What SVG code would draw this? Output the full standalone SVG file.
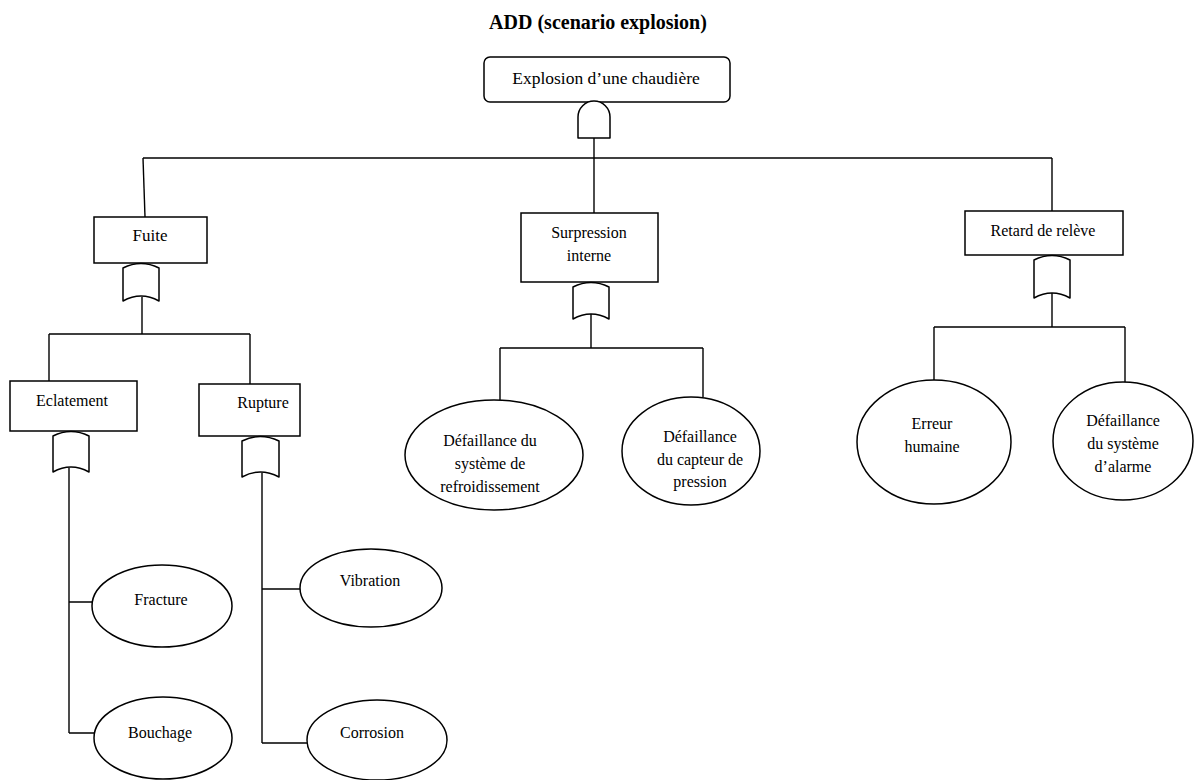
<svg xmlns="http://www.w3.org/2000/svg" width="1196" height="780" viewBox="0 0 1196 780">
  <style>
    .box { fill: #fff; stroke: #000; stroke-width: 1.5; }
    .ev { fill: #fff; stroke: #000; stroke-width: 1.5; }
    .gate { fill: #fff; stroke: #000; stroke-width: 1.5; stroke-linejoin: round; }
    .wire { fill: none; stroke: #000; stroke-width: 1.4; }
    .lbl { font-family: "Liberation Serif", "Times New Roman", serif; font-size: 16px; fill: #000; text-anchor: middle; }
    .title { font-family: "Liberation Serif", "Times New Roman", serif; font-size: 20px; font-weight: bold; fill: #000; text-anchor: middle; }
  </style>
  <rect width="1196" height="780" fill="#fff"/>

  <text class="title" x="598" y="29">ADD (scenario explosion)</text>

  <!-- connectors -->
  <g id="connectors">
    <path class="wire" d="M594,138 V213"/>
    <path class="wire" d="M143,158 H1052"/>
    <path class="wire" d="M143,158 L145,217"/>
    <path class="wire" d="M1052,158 V211"/>
    <!-- Fuite branch -->
    <path class="wire" d="M142,297 V334 M49,334 H250 M49,334 V381 M250,334 V384"/>
    <path class="wire" d="M69,468 V733 M69,602 H92 M69,733 H94"/>
    <path class="wire" d="M262,473 V743 M262,589 H300 M262,743 H307"/>
    <!-- Surpression branch -->
    <path class="wire" d="M591,314 V348 M500,348 H703 M500,348 V400 M703,348 V397"/>
    <!-- Retard branch -->
    <path class="wire" d="M1052,293 V327 M934,327 H1125 M934,327 V380 M1125,327 V382"/>
  </g>

  <!-- top event -->
  <g id="n-explosion">
    <rect class="box" x="484" y="57" width="246" height="45" rx="6"/>
    <text class="lbl" x="606" y="84" style="font-size:17.5px">Explosion d’une chaudière</text>
  </g>
  <g id="g-and-top">
    <path class="gate" d="M578,138 V117 A16,16 0 0 1 610,117 V138 Z"/>
  </g>

  <!-- intermediate events -->
  <g id="n-fuite">
    <rect class="box" x="94" y="217" width="113" height="46"/>
    <text class="lbl" x="150" y="241" style="font-size:17px">Fuite</text>
  </g>
  <g id="g-or-fuite">
    <path class="gate" d="M123,268 Q141,259 159,268 V301 Q141,291 123,301 Z"/>
  </g>

  <g id="n-surpression">
    <rect class="box" x="521" y="213" width="137" height="69"/>
    <text class="lbl" x="589" y="238">Surpression</text>
    <text class="lbl" x="589" y="261">interne</text>
  </g>
  <g id="g-or-surpression">
    <path class="gate" d="M573,287 Q591,278 609,287 V319 Q591,309 573,319 Z"/>
  </g>

  <g id="n-retard">
    <rect class="box" x="965" y="211" width="158" height="44"/>
    <text class="lbl" x="1043" y="236">Retard de relève</text>
  </g>
  <g id="g-or-retard">
    <path class="gate" d="M1034,260 Q1052,251 1070,260 V298 Q1052,288 1034,298 Z"/>
  </g>

  <g id="n-eclatement">
    <rect class="box" x="10" y="381" width="127" height="50"/>
    <text class="lbl" x="72" y="406">Eclatement</text>
  </g>
  <g id="g-or-eclatement">
    <path class="gate" d="M53,436 Q71,427 89,436 V472 Q71,462 53,472 Z"/>
  </g>

  <g id="n-rupture">
    <rect class="box" x="199" y="384" width="101" height="52"/>
    <text class="lbl" x="263" y="408">Rupture</text>
  </g>
  <g id="g-or-rupture">
    <path class="gate" d="M242,441 Q260,432 279,441 V477 Q260,467 242,477 Z"/>
  </g>

  <!-- basic events -->
  <g id="n-fracture">
    <ellipse class="ev" cx="162" cy="606" rx="70" ry="41"/>
    <text class="lbl" x="161" y="605">Fracture</text>
  </g>
  <g id="n-bouchage">
    <ellipse class="ev" cx="163" cy="738" rx="69" ry="41"/>
    <text class="lbl" x="160" y="738">Bouchage</text>
  </g>
  <g id="n-vibration">
    <ellipse class="ev" cx="371" cy="588" rx="71" ry="39"/>
    <text class="lbl" x="370" y="586">Vibration</text>
  </g>
  <g id="n-corrosion">
    <ellipse class="ev" cx="377" cy="740" rx="70" ry="40"/>
    <text class="lbl" x="372" y="738">Corrosion</text>
  </g>
  <g id="n-refroidissement">
    <ellipse class="ev" cx="494" cy="455" rx="89" ry="55"/>
    <text class="lbl" x="490" y="446">Défaillance du</text>
    <text class="lbl" x="490" y="469">système de</text>
    <text class="lbl" x="490" y="492">refroidissement</text>
  </g>
  <g id="n-capteur">
    <ellipse class="ev" cx="691" cy="451" rx="69" ry="54"/>
    <text class="lbl" x="700" y="442">Défaillance</text>
    <text class="lbl" x="700" y="465">du capteur de</text>
    <text class="lbl" x="700" y="487">pression</text>
  </g>
  <g id="n-erreur">
    <ellipse class="ev" cx="934" cy="442" rx="77" ry="62"/>
    <text class="lbl" x="932" y="429">Erreur</text>
    <text class="lbl" x="932" y="452">humaine</text>
  </g>
  <g id="n-alarme">
    <ellipse class="ev" cx="1123" cy="441" rx="70" ry="59"/>
    <text class="lbl" x="1123" y="426">Défaillance</text>
    <text class="lbl" x="1123" y="449">du système</text>
    <text class="lbl" x="1123" y="472">d’alarme</text>
  </g>
</svg>
